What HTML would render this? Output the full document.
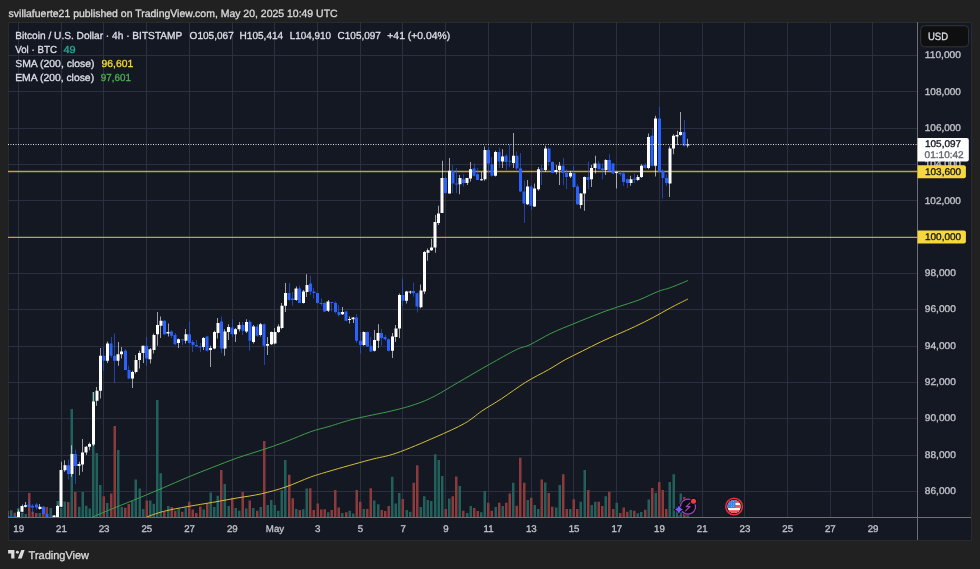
<!DOCTYPE html><html><head><meta charset="utf-8"><style>html,body{margin:0;padding:0;background:#212121;overflow:hidden}</style></head><body><svg width="980" height="569" viewBox="0 0 980 569" style="display:block;will-change:transform" text-rendering="geometricPrecision">
<rect x="0" y="0" width="980" height="569" fill="#212121"/>
<rect x="8" y="22" width="964" height="519" fill="#2a2a2d"/>
<rect x="9" y="23" width="962" height="517" fill="#141823"/>
<defs><clipPath id="pane"><rect x="8" y="22" width="909.0" height="495.0"/></clipPath></defs>
<path d="M8 491.5H917.0M8 455.5H917.0M8 418.5H917.0M8 382.5H917.0M8 346.5H917.0M8 309.5H917.0M8 273.5H917.0M8 237.5H917.0M8 200.5H917.0M8 164.5H917.0M8 128.5H917.0M8 91.5H917.0M8 55.5H917.0M18.5 22V517.0M61.5 22V517.0M103.5 22V517.0M146.5 22V517.0M189.5 22V517.0M232.5 22V517.0M274.5 22V517.0M317.5 22V517.0M360.5 22V517.0M402.5 22V517.0M445.5 22V517.0M488.5 22V517.0M531.5 22V517.0M573.5 22V517.0M616.5 22V517.0M659.5 22V517.0M702.5 22V517.0M744.5 22V517.0M787.5 22V517.0M830.5 22V517.0M872.5 22V517.0" stroke="#2c2f3f" stroke-width="1" fill="none"/>
<g clip-path="url(#pane)">
<path d="M10.0 510.3h2.5v6.7h-2.5zM17.0 508.1h2.5v8.9h-2.5zM21.0 512.4h2.5v4.6h-2.5zM24.5 513.9h2.5v3.1h-2.5zM38.5 513.1h2.5v3.9h-2.5zM49.5 508.1h2.5v8.9h-2.5zM53.0 516.0h2.5v1.0h-2.5zM56.5 501.0h2.5v16.0h-2.5zM60.0 507.4h2.5v9.6h-2.5zM63.5 501.4h2.5v15.6h-2.5zM70.5 409.0h2.5v108.0h-2.5zM78.0 506.7h2.5v10.3h-2.5zM81.5 492.0h2.5v25.0h-2.5zM85.0 505.7h2.5v11.3h-2.5zM88.5 508.6h2.5v8.4h-2.5zM92.0 392.0h2.5v125.0h-2.5zM95.5 452.9h2.5v64.1h-2.5zM99.0 485.0h2.5v32.0h-2.5zM106.0 502.9h2.5v14.1h-2.5zM117.0 450.0h2.5v67.0h-2.5zM120.5 507.1h2.5v9.9h-2.5zM131.0 501.0h2.5v16.0h-2.5zM134.5 479.6h2.5v37.4h-2.5zM138.5 488.6h2.5v28.4h-2.5zM142.0 509.1h2.5v7.9h-2.5zM149.0 500.6h2.5v16.4h-2.5zM152.5 503.8h2.5v13.2h-2.5zM156.0 399.9h2.5v117.1h-2.5zM159.5 473.2h2.5v43.8h-2.5zM167.0 506.0h2.5v11.0h-2.5zM177.5 508.6h2.5v8.4h-2.5zM184.5 507.5h2.5v9.5h-2.5zM202.5 509.6h2.5v7.4h-2.5zM209.5 492.5h2.5v24.5h-2.5zM213.0 507.1h2.5v9.9h-2.5zM216.5 495.7h2.5v21.3h-2.5zM223.5 483.9h2.5v33.1h-2.5zM227.5 506.0h2.5v11.0h-2.5zM234.5 508.1h2.5v8.9h-2.5zM238.0 510.7h2.5v6.3h-2.5zM245.0 508.6h2.5v8.4h-2.5zM252.0 507.9h2.5v9.1h-2.5zM259.5 507.1h2.5v9.9h-2.5zM266.5 504.9h2.5v12.1h-2.5zM270.0 500.0h2.5v17.0h-2.5zM273.5 504.9h2.5v12.1h-2.5zM277.0 510.7h2.5v6.3h-2.5zM280.5 490.3h2.5v26.7h-2.5zM284.0 459.9h2.5v57.1h-2.5zM295.0 509.0h2.5v8.0h-2.5zM302.0 509.2h2.5v7.8h-2.5zM305.5 488.6h2.5v28.4h-2.5zM327.0 512.2h2.5v4.8h-2.5zM341.0 512.9h2.5v4.1h-2.5zM348.5 510.7h2.5v6.3h-2.5zM352.0 513.5h2.5v3.5h-2.5zM362.5 509.0h2.5v8.0h-2.5zM373.0 500.6h2.5v16.4h-2.5zM377.0 504.3h2.5v12.7h-2.5zM391.0 476.8h2.5v40.2h-2.5zM394.5 503.6h2.5v13.4h-2.5zM398.0 492.9h2.5v24.1h-2.5zM405.5 510.1h2.5v6.9h-2.5zM409.0 511.8h2.5v5.2h-2.5zM419.5 507.1h2.5v9.9h-2.5zM423.0 496.3h2.5v20.7h-2.5zM426.5 500.0h2.5v17.0h-2.5zM430.0 501.1h2.5v15.9h-2.5zM434.0 454.3h2.5v62.7h-2.5zM437.5 459.9h2.5v57.1h-2.5zM441.0 476.0h2.5v41.0h-2.5zM448.0 498.5h2.5v18.5h-2.5zM458.5 486.1h2.5v30.9h-2.5zM466.0 512.9h2.5v4.1h-2.5zM469.5 506.0h2.5v11.0h-2.5zM480.0 512.2h2.5v4.8h-2.5zM483.5 491.0h2.5v26.0h-2.5zM494.5 507.1h2.5v9.9h-2.5zM501.5 506.0h2.5v11.0h-2.5zM512.0 482.8h2.5v34.2h-2.5zM526.5 500.0h2.5v17.0h-2.5zM533.5 504.9h2.5v12.1h-2.5zM537.0 509.0h2.5v8.0h-2.5zM544.0 482.4h2.5v34.6h-2.5zM555.0 507.5h2.5v9.5h-2.5zM558.5 485.0h2.5v32.0h-2.5zM569.0 509.0h2.5v8.0h-2.5zM579.5 501.7h2.5v15.3h-2.5zM583.5 470.0h2.5v47.0h-2.5zM590.5 504.9h2.5v12.1h-2.5zM594.0 501.7h2.5v15.3h-2.5zM604.5 496.3h2.5v20.7h-2.5zM615.5 502.8h2.5v14.2h-2.5zM629.5 510.1h2.5v6.9h-2.5zM636.5 513.3h2.5v3.7h-2.5zM640.0 511.9h2.5v5.1h-2.5zM647.5 499.4h2.5v17.6h-2.5zM654.5 493.0h2.5v24.0h-2.5zM668.5 481.9h2.5v35.1h-2.5zM672.5 474.2h2.5v42.8h-2.5zM676.0 507.0h2.5v10.0h-2.5zM679.5 493.6h2.5v23.4h-2.5zM686.5 515.0h2.5v2.0h-2.5z" fill="#22605c"/>
<path d="M6.5 511.0h2.5v6.0h-2.5zM13.5 512.7h2.5v4.3h-2.5zM28.0 493.1h2.5v23.9h-2.5zM31.5 511.7h2.5v5.3h-2.5zM35.0 513.1h2.5v3.9h-2.5zM42.0 510.3h2.5v6.7h-2.5zM45.5 507.0h2.5v10.0h-2.5zM67.0 502.0h2.5v15.0h-2.5zM74.0 492.0h2.5v25.0h-2.5zM102.5 496.3h2.5v20.7h-2.5zM110.0 493.6h2.5v23.4h-2.5zM113.5 426.0h2.5v91.0h-2.5zM124.0 507.7h2.5v9.3h-2.5zM127.5 503.9h2.5v13.1h-2.5zM145.5 500.6h2.5v16.4h-2.5zM163.0 511.4h2.5v5.6h-2.5zM170.5 507.1h2.5v9.9h-2.5zM174.0 510.7h2.5v6.3h-2.5zM181.0 511.8h2.5v5.2h-2.5zM188.0 501.7h2.5v15.3h-2.5zM191.5 509.6h2.5v7.4h-2.5zM195.0 512.9h2.5v4.1h-2.5zM199.0 506.4h2.5v10.6h-2.5zM206.0 503.2h2.5v13.8h-2.5zM220.0 470.0h2.5v47.0h-2.5zM231.0 497.8h2.5v19.2h-2.5zM241.5 492.0h2.5v25.0h-2.5zM248.5 500.6h2.5v16.4h-2.5zM256.0 510.7h2.5v6.3h-2.5zM263.0 441.0h2.5v76.0h-2.5zM288.0 474.7h2.5v42.3h-2.5zM291.5 498.3h2.5v18.7h-2.5zM298.5 510.1h2.5v6.9h-2.5zM309.0 488.2h2.5v28.8h-2.5zM312.5 510.1h2.5v6.9h-2.5zM316.5 503.6h2.5v13.4h-2.5zM320.0 509.6h2.5v7.4h-2.5zM323.5 509.2h2.5v7.8h-2.5zM330.5 510.1h2.5v6.9h-2.5zM334.0 489.9h2.5v27.1h-2.5zM337.5 507.5h2.5v9.5h-2.5zM345.0 512.2h2.5v4.8h-2.5zM355.5 489.9h2.5v27.1h-2.5zM359.0 501.7h2.5v15.3h-2.5zM366.0 509.0h2.5v8.0h-2.5zM369.5 488.2h2.5v28.8h-2.5zM380.5 510.1h2.5v6.9h-2.5zM384.0 511.1h2.5v5.9h-2.5zM387.5 506.0h2.5v11.0h-2.5zM401.5 498.9h2.5v18.1h-2.5zM412.5 482.8h2.5v34.2h-2.5zM416.0 465.3h2.5v51.7h-2.5zM444.5 509.0h2.5v8.0h-2.5zM451.5 496.3h2.5v20.7h-2.5zM455.0 476.4h2.5v40.6h-2.5zM462.0 510.7h2.5v6.3h-2.5zM473.0 507.9h2.5v9.1h-2.5zM476.5 511.1h2.5v5.9h-2.5zM487.0 502.8h2.5v14.2h-2.5zM490.5 510.7h2.5v6.3h-2.5zM498.0 502.8h2.5v14.2h-2.5zM505.0 502.8h2.5v14.2h-2.5zM508.5 493.6h2.5v23.4h-2.5zM515.5 505.8h2.5v11.2h-2.5zM519.0 457.7h2.5v59.3h-2.5zM523.0 482.8h2.5v34.2h-2.5zM530.0 497.8h2.5v19.2h-2.5zM540.5 479.6h2.5v37.4h-2.5zM547.5 493.1h2.5v23.9h-2.5zM551.0 506.8h2.5v10.2h-2.5zM562.0 474.3h2.5v42.7h-2.5zM565.5 509.0h2.5v8.0h-2.5zM572.5 499.3h2.5v17.7h-2.5zM576.0 509.0h2.5v8.0h-2.5zM587.0 489.9h2.5v27.1h-2.5zM597.5 501.7h2.5v15.3h-2.5zM601.0 506.0h2.5v11.0h-2.5zM608.0 491.8h2.5v25.2h-2.5zM612.0 509.0h2.5v8.0h-2.5zM619.0 512.9h2.5v4.1h-2.5zM622.5 507.5h2.5v9.5h-2.5zM626.0 511.8h2.5v5.2h-2.5zM633.0 510.7h2.5v6.3h-2.5zM644.0 509.8h2.5v7.2h-2.5zM651.0 488.1h2.5v28.9h-2.5zM658.0 481.9h2.5v35.1h-2.5zM661.5 489.9h2.5v27.1h-2.5zM665.0 509.0h2.5v8.0h-2.5zM683.0 496.9h2.5v20.1h-2.5z" fill="#8c3a3c"/>
<path d="M92.4 517.1C96.1 515.6 106.7 511.0 114.5 507.8C122.3 504.6 130.8 501.4 139.0 498.0C147.2 494.6 155.3 491.2 163.5 487.7C171.7 484.2 179.8 480.5 188.0 477.1C196.2 473.7 204.3 470.6 212.5 467.4C220.7 464.2 228.8 460.9 237.0 458.0C245.2 455.1 253.2 452.9 261.4 450.2C269.5 447.5 277.7 444.7 285.9 441.6C294.1 438.5 303.0 434.4 310.4 431.8C317.8 429.2 322.6 428.4 330.0 426.2C337.4 424.0 344.3 421.4 354.5 418.9C364.7 416.4 381.0 413.4 391.2 411.0C401.4 408.6 408.3 406.7 415.7 404.2C423.1 401.7 428.4 399.4 435.3 395.8C442.2 392.2 448.4 388.1 457.4 382.9C466.4 377.7 479.4 370.0 489.2 364.5C499.0 359.0 509.3 353.1 516.1 349.8C522.9 346.5 524.2 347.4 530.0 344.7C535.8 341.9 543.8 336.8 551.1 333.3C558.4 329.8 565.8 327.0 574.0 323.6C582.2 320.2 593.0 315.9 600.3 313.1C607.6 310.3 611.4 309.1 617.9 306.9C624.4 304.7 632.3 302.5 639.0 299.9C645.7 297.3 653.0 293.4 658.3 291.4C663.6 289.3 665.7 289.4 670.6 287.6C675.5 285.8 685.0 281.7 687.9 280.5" stroke="#3f9d4b" stroke-width="1" fill="none"/>
<path d="M146.3 517.1C149.2 516.1 156.6 513.2 163.5 511.4C170.4 509.6 179.8 508.0 188.0 506.5C196.2 505.0 204.3 503.8 212.5 502.4C220.7 501.0 228.8 499.4 237.0 498.0C245.2 496.6 253.2 495.7 261.4 493.8C269.5 491.9 277.7 489.7 285.9 486.9C294.1 484.1 303.0 479.8 310.4 477.1C317.8 474.5 320.2 473.9 330.0 471.0C339.8 468.1 358.2 463.0 369.2 460.0C380.2 457.0 385.1 457.0 396.1 453.2C407.1 449.4 423.9 442.2 435.3 437.2C446.7 432.2 456.9 427.7 464.7 423.3C472.5 418.9 475.8 415.1 481.9 411.0C488.0 406.9 494.1 403.6 501.4 398.8C508.7 394.0 518.0 387.0 525.9 382.1C533.8 377.2 542.0 373.4 548.5 369.7C555.0 366.0 559.5 362.8 565.2 359.7C570.9 356.6 576.9 353.8 582.7 350.9C588.6 348.0 594.4 344.9 600.3 342.1C606.2 339.3 612.0 336.8 617.9 334.2C623.8 331.6 629.6 329.1 635.5 326.3C641.4 323.5 647.2 320.6 653.1 317.5C659.0 314.4 664.8 310.9 670.6 307.8C676.4 304.7 685.0 300.5 687.9 299.0" stroke="#d4bf38" stroke-width="1" fill="none"/>
<path d="M8 171.5H917.0M8 237.3H917.0" stroke="#b9a833" stroke-width="1.3" fill="none"/>
<path d="M7.20 516.0h0.6v1.5h-0.6zM11.20 518.0h0.6v1.0h-0.6zM14.20 516.0h0.6v1.5h-0.6zM29.20 498.9h0.6v8.5h-0.6zM32.20 503.9h0.6v10.7h-0.6zM36.20 503.1h0.6v6.5h-0.6zM43.20 506.0h0.6v8.6h-0.6zM46.20 513.0h0.6v4.0h-0.6zM50.20 518.0h0.6v1.0h-0.6zM68.20 459.6h0.6v20.0h-0.6zM75.20 449.6h0.6v34.3h-0.6zM103.20 347.0h0.6v23.7h-0.6zM111.20 337.0h0.6v20.9h-0.6zM114.20 333.5h0.6v49.4h-0.6zM125.20 349.0h0.6v21.0h-0.6zM128.20 365.7h0.6v13.6h-0.6zM146.20 337.0h0.6v28.7h-0.6zM164.20 320.0h0.6v15.0h-0.6zM171.20 330.3h0.6v7.6h-0.6zM175.20 333.0h0.6v12.0h-0.6zM182.20 339.0h0.6v6.0h-0.6zM189.20 321.4h0.6v22.2h-0.6zM192.20 340.0h0.6v12.1h-0.6zM196.20 340.0h0.6v7.1h-0.6zM200.20 342.9h0.6v9.2h-0.6zM207.20 335.7h0.6v15.7h-0.6zM221.20 316.4h0.6v36.5h-0.6zM232.20 319.3h0.6v17.8h-0.6zM242.20 322.1h0.6v12.9h-0.6zM249.20 320.0h0.6v30.7h-0.6zM257.20 324.3h0.6v12.8h-0.6zM264.20 323.6h0.6v41.4h-0.6zM289.20 282.9h0.6v17.8h-0.6zM292.20 292.1h0.6v13.6h-0.6zM299.20 285.7h0.6v17.2h-0.6zM310.20 275.7h0.6v19.3h-0.6zM313.20 287.9h0.6v10.7h-0.6zM317.20 292.9h0.6v10.7h-0.6zM321.20 298.6h0.6v7.1h-0.6zM324.20 301.4h0.6v10.7h-0.6zM331.20 301.9h0.6v9.5h-0.6zM335.20 301.4h0.6v12.2h-0.6zM338.20 305.0h0.6v11.4h-0.6zM346.20 310.7h0.6v10.7h-0.6zM356.20 314.3h0.6v28.6h-0.6zM360.20 332.1h0.6v21.5h-0.6zM367.20 331.4h0.6v15.7h-0.6zM370.20 337.1h0.6v15.0h-0.6zM381.20 329.3h0.6v16.4h-0.6zM385.20 335.0h0.6v5.7h-0.6zM388.20 338.6h0.6v12.8h-0.6zM402.20 278.6h0.6v27.1h-0.6zM413.20 282.7h0.6v14.1h-0.6zM417.20 292.4h0.6v20.2h-0.6zM445.20 177.0h0.6v16.6h-0.6zM452.20 165.0h0.6v27.9h-0.6zM456.20 167.9h0.6v25.0h-0.6zM463.20 174.3h0.6v12.1h-0.6zM474.20 163.6h0.6v12.8h-0.6zM477.20 167.9h0.6v12.1h-0.6zM488.20 147.1h0.6v26.5h-0.6zM491.20 157.1h0.6v19.3h-0.6zM499.20 147.9h0.6v20.0h-0.6zM506.20 154.3h0.6v15.7h-0.6zM509.20 144.3h0.6v22.8h-0.6zM516.20 151.4h0.6v18.6h-0.6zM520.20 152.9h0.6v39.2h-0.6zM524.20 180.7h0.6v42.2h-0.6zM531.20 185.0h0.6v25.0h-0.6zM541.20 165.0h0.6v20.0h-0.6zM548.20 147.1h0.6v18.6h-0.6zM552.20 161.4h0.6v12.2h-0.6zM563.20 157.9h0.6v27.1h-0.6zM566.20 169.3h0.6v20.0h-0.6zM573.20 165.7h0.6v22.2h-0.6zM577.20 184.3h0.6v20.7h-0.6zM588.20 161.4h0.6v27.9h-0.6zM598.20 160.7h0.6v8.6h-0.6zM602.20 163.6h0.6v15.7h-0.6zM609.20 154.3h0.6v17.1h-0.6zM613.20 162.9h0.6v11.4h-0.6zM620.20 170.0h0.6v5.7h-0.6zM623.20 172.1h0.6v13.6h-0.6zM627.20 178.6h0.6v9.3h-0.6zM634.20 173.6h0.6v9.3h-0.6zM645.20 162.9h0.6v5.7h-0.6zM652.20 128.6h0.6v37.8h-0.6zM659.20 107.1h0.6v65.0h-0.6zM662.20 169.3h0.6v29.3h-0.6zM666.20 174.3h0.6v11.4h-0.6zM684.20 120.0h0.6v26.4h-0.6z" fill="#2962ff"/>
<path d="M6.5 516.0h3.0v1.5h-3.0zM10.0 518.0h3.0v1.0h-3.0zM13.5 516.0h3.0v1.5h-3.0zM27.5 504.6h3.0v2.1h-3.0zM31.0 505.7h3.0v1.7h-3.0zM35.0 504.6h3.0v2.8h-3.0zM42.0 506.7h3.0v7.2h-3.0zM45.5 513.9h3.0v3.1h-3.0zM49.0 518.0h3.0v1.0h-3.0zM67.0 465.3h3.0v8.6h-3.0zM74.0 453.9h3.0v12.1h-3.0zM102.5 355.7h3.0v5.0h-3.0zM109.5 343.6h3.0v12.1h-3.0zM113.0 355.7h3.0v5.0h-3.0zM124.0 350.7h3.0v19.3h-3.0zM127.5 370.0h3.0v8.6h-3.0zM145.0 345.7h3.0v12.9h-3.0zM163.0 320.7h3.0v13.6h-3.0zM170.0 331.4h3.0v4.3h-3.0zM173.5 335.0h3.0v9.3h-3.0zM181.0 339.3h3.0v1.0h-3.0zM188.0 334.3h3.0v8.6h-3.0zM191.5 342.1h3.0v2.9h-3.0zM195.0 345.0h3.0v1.4h-3.0zM198.5 346.4h3.0v1.0h-3.0zM205.5 336.4h3.0v14.3h-3.0zM220.0 321.4h3.0v27.2h-3.0zM230.5 327.4h3.0v6.9h-3.0zM241.5 325.0h3.0v5.7h-3.0zM248.5 321.7h3.0v19.0h-3.0zM255.5 326.4h3.0v9.3h-3.0zM262.5 324.3h3.0v21.4h-3.0zM287.5 292.9h3.0v7.1h-3.0zM291.0 298.6h3.0v1.4h-3.0zM298.0 288.6h3.0v14.3h-3.0zM309.0 283.6h3.0v7.8h-3.0zM312.5 291.4h3.0v1.5h-3.0zM316.0 292.9h3.0v10.0h-3.0zM319.5 302.9h3.0v1.0h-3.0zM323.0 302.9h3.0v8.5h-3.0zM330.5 302.1h3.0v1.0h-3.0zM334.0 302.9h3.0v9.2h-3.0zM337.5 312.1h3.0v2.9h-3.0zM344.5 311.4h3.0v9.3h-3.0zM355.0 317.6h3.0v23.1h-3.0zM359.0 340.7h3.0v4.3h-3.0zM366.0 332.1h3.0v14.3h-3.0zM369.5 345.7h3.0v5.7h-3.0zM380.0 332.9h3.0v5.0h-3.0zM383.5 336.9h3.0v2.4h-3.0zM387.0 339.3h3.0v11.4h-3.0zM401.5 295.0h3.0v5.7h-3.0zM412.0 291.0h3.0v2.2h-3.0zM415.5 293.2h3.0v13.2h-3.0zM444.0 177.9h3.0v15.0h-3.0zM451.5 170.7h3.0v12.9h-3.0zM455.0 183.6h3.0v1.0h-3.0zM462.0 179.3h3.0v3.6h-3.0zM472.5 168.6h3.0v7.1h-3.0zM476.0 174.3h3.0v5.7h-3.0zM487.0 150.0h3.0v13.6h-3.0zM490.5 164.3h3.0v11.4h-3.0zM497.5 151.9h3.0v9.5h-3.0zM504.5 155.7h3.0v6.4h-3.0zM508.5 160.7h3.0v1.0h-3.0zM515.5 155.7h3.0v12.9h-3.0zM519.0 168.6h3.0v22.8h-3.0zM522.5 191.4h3.0v12.2h-3.0zM529.5 186.4h3.0v19.3h-3.0zM540.5 168.6h3.0v1.0h-3.0zM547.5 148.6h3.0v13.5h-3.0zM551.0 162.1h3.0v10.8h-3.0zM561.5 165.7h3.0v7.2h-3.0zM565.0 172.9h3.0v4.2h-3.0zM572.5 172.9h3.0v14.2h-3.0zM576.0 186.4h3.0v17.9h-3.0zM586.5 177.1h3.0v2.9h-3.0zM597.5 163.6h3.0v5.7h-3.0zM601.0 168.6h3.0v1.4h-3.0zM608.0 160.0h3.0v10.7h-3.0zM611.5 163.6h3.0v10.0h-3.0zM618.5 172.9h3.0v1.4h-3.0zM622.0 173.6h3.0v8.5h-3.0zM626.0 179.3h3.0v3.6h-3.0zM633.0 178.6h3.0v1.0h-3.0zM643.5 165.0h3.0v2.9h-3.0zM650.5 135.7h3.0v30.0h-3.0zM658.0 118.6h3.0v52.8h-3.0zM661.5 170.7h3.0v7.2h-3.0zM665.0 177.9h3.0v5.0h-3.0zM682.5 132.1h3.0v13.6h-3.0z" fill="#2962ff"/>
<path d="M18.20 509.6h0.6v7.4h-0.6zM22.20 504.6h0.6v7.4h-0.6zM25.20 502.0h0.6v5.4h-0.6zM39.20 503.9h0.6v5.7h-0.6zM54.20 515.0h0.6v2.0h-0.6zM57.20 505.0h0.6v12.0h-0.6zM61.20 461.7h0.6v45.3h-0.6zM64.20 460.3h0.6v11.4h-0.6zM71.20 445.3h0.6v31.4h-0.6zM79.20 461.7h0.6v13.6h-0.6zM82.20 438.9h0.6v32.8h-0.6zM86.20 446.0h0.6v9.0h-0.6zM89.20 442.4h0.6v7.9h-0.6zM93.20 392.0h0.6v54.0h-0.6zM96.20 387.0h0.6v18.7h-0.6zM100.20 347.9h0.6v50.7h-0.6zM107.20 341.4h0.6v21.5h-0.6zM118.20 342.0h0.6v23.7h-0.6zM121.20 347.0h0.6v11.6h-0.6zM132.20 370.7h0.6v17.2h-0.6zM135.20 355.0h0.6v18.6h-0.6zM139.20 350.7h0.6v17.9h-0.6zM143.20 345.7h0.6v17.2h-0.6zM150.20 347.9h0.6v15.7h-0.6zM153.20 333.6h0.6v20.0h-0.6zM157.20 312.0h0.6v33.7h-0.6zM160.20 316.4h0.6v21.5h-0.6zM168.20 323.6h0.6v12.8h-0.6zM178.20 338.6h0.6v9.3h-0.6zM185.20 328.9h0.6v14.7h-0.6zM203.20 337.1h0.6v12.9h-0.6zM210.20 345.7h0.6v21.4h-0.6zM214.20 330.7h0.6v18.6h-0.6zM217.20 317.9h0.6v20.7h-0.6zM224.20 329.3h0.6v26.4h-0.6zM228.20 324.3h0.6v15.7h-0.6zM235.20 327.9h0.6v14.2h-0.6zM239.20 322.1h0.6v9.3h-0.6zM246.20 319.3h0.6v13.6h-0.6zM253.20 325.0h0.6v18.6h-0.6zM260.20 322.9h0.6v13.5h-0.6zM267.20 337.1h0.6v17.9h-0.6zM271.20 331.4h0.6v13.6h-0.6zM274.20 327.9h0.6v16.4h-0.6zM278.20 324.3h0.6v8.6h-0.6zM281.20 302.9h0.6v26.4h-0.6zM285.20 282.9h0.6v29.2h-0.6zM296.20 286.4h0.6v14.3h-0.6zM303.20 290.0h0.6v13.6h-0.6zM306.20 274.3h0.6v22.8h-0.6zM328.20 300.0h0.6v12.1h-0.6zM342.20 307.1h0.6v7.9h-0.6zM349.20 316.4h0.6v7.2h-0.6zM353.20 317.0h0.6v5.9h-0.6zM363.20 331.4h0.6v14.3h-0.6zM374.20 330.0h0.6v21.4h-0.6zM378.20 324.3h0.6v23.6h-0.6zM392.20 332.9h0.6v25.0h-0.6zM395.20 325.0h0.6v17.1h-0.6zM399.20 293.6h0.6v44.3h-0.6zM406.20 290.7h0.6v12.9h-0.6zM410.20 290.7h0.6v3.4h-0.6zM420.20 284.5h0.6v23.7h-0.6zM424.20 251.0h0.6v43.1h-0.6zM427.20 248.4h0.6v12.3h-0.6zM431.20 238.7h0.6v12.3h-0.6zM435.20 215.0h0.6v37.8h-0.6zM438.20 205.7h0.6v19.3h-0.6zM442.20 160.7h0.6v52.2h-0.6zM449.20 157.9h0.6v35.7h-0.6zM459.20 175.0h0.6v19.3h-0.6zM467.20 177.9h0.6v7.1h-0.6zM470.20 162.1h0.6v19.3h-0.6zM481.20 172.1h0.6v8.6h-0.6zM484.20 146.4h0.6v34.3h-0.6zM495.20 150.7h0.6v25.7h-0.6zM502.20 149.3h0.6v18.6h-0.6zM513.20 132.9h0.6v35.0h-0.6zM527.20 180.0h0.6v25.0h-0.6zM534.20 183.6h0.6v23.5h-0.6zM538.20 167.1h0.6v23.6h-0.6zM545.20 145.7h0.6v26.4h-0.6zM556.20 165.0h0.6v9.3h-0.6zM559.20 162.1h0.6v22.9h-0.6zM570.20 171.0h0.6v6.9h-0.6zM580.20 192.9h0.6v15.7h-0.6zM584.20 176.4h0.6v34.3h-0.6zM591.20 165.0h0.6v22.1h-0.6zM595.20 155.7h0.6v17.9h-0.6zM605.20 159.3h0.6v15.7h-0.6zM616.20 171.4h0.6v17.2h-0.6zM630.20 175.7h0.6v10.0h-0.6zM637.20 175.0h0.6v5.7h-0.6zM641.20 164.3h0.6v13.6h-0.6zM648.20 133.6h0.6v35.7h-0.6zM655.20 115.7h0.6v60.7h-0.6zM669.20 146.4h0.6v50.7h-0.6zM673.20 134.3h0.6v20.0h-0.6zM677.20 130.7h0.6v14.3h-0.6zM680.20 112.1h0.6v23.6h-0.6zM687.20 138.8h0.6v8.8h-0.6z" fill="#ffffff"/>
<path d="M17.0 511.7h3.0v5.3h-3.0zM20.5 506.0h3.0v5.7h-3.0zM24.0 505.3h3.0v1.4h-3.0zM38.5 506.7h3.0v2.2h-3.0zM52.5 515.5h3.0v1.5h-3.0zM56.0 506.0h3.0v11.0h-3.0zM59.5 470.0h3.0v36.7h-3.0zM63.5 465.3h3.0v5.0h-3.0zM70.5 453.9h3.0v20.0h-3.0zM77.5 463.9h3.0v2.1h-3.0zM81.0 452.4h3.0v12.2h-3.0zM84.5 446.7h3.0v5.7h-3.0zM88.0 443.9h3.0v2.8h-3.0zM92.0 401.4h3.0v43.2h-3.0zM95.5 390.7h3.0v10.0h-3.0zM99.0 355.7h3.0v35.0h-3.0zM106.0 343.6h3.0v17.1h-3.0zM116.5 354.3h3.0v6.4h-3.0zM120.0 351.4h3.0v2.9h-3.0zM131.0 372.0h3.0v6.6h-3.0zM134.5 360.0h3.0v12.0h-3.0zM138.0 352.9h3.0v7.1h-3.0zM141.5 345.7h3.0v7.2h-3.0zM148.5 349.3h3.0v10.0h-3.0zM152.5 335.0h3.0v15.0h-3.0zM156.0 325.0h3.0v9.3h-3.0zM159.5 320.7h3.0v5.0h-3.0zM166.5 332.0h3.0v1.6h-3.0zM177.0 339.3h3.0v3.6h-3.0zM184.5 334.3h3.0v6.4h-3.0zM202.0 337.9h3.0v9.2h-3.0zM209.0 347.9h3.0v2.1h-3.0zM213.0 332.1h3.0v16.5h-3.0zM216.5 322.9h3.0v10.0h-3.0zM223.5 331.4h3.0v17.2h-3.0zM227.0 327.1h3.0v5.0h-3.0zM234.0 329.3h3.0v5.0h-3.0zM237.5 325.0h3.0v4.3h-3.0zM245.0 322.1h3.0v9.3h-3.0zM252.0 326.4h3.0v15.7h-3.0zM259.0 324.3h3.0v10.7h-3.0zM266.0 344.0h3.0v1.7h-3.0zM270.0 332.1h3.0v12.2h-3.0zM273.5 332.1h3.0v11.5h-3.0zM277.0 326.4h3.0v5.7h-3.0zM280.5 305.7h3.0v22.2h-3.0zM284.0 292.9h3.0v12.8h-3.0zM294.5 288.6h3.0v11.4h-3.0zM302.0 291.4h3.0v11.5h-3.0zM305.5 285.0h3.0v7.1h-3.0zM326.5 301.4h3.0v9.3h-3.0zM341.0 312.1h3.0v2.2h-3.0zM348.0 319.0h3.0v1.0h-3.0zM351.5 317.6h3.0v1.7h-3.0zM362.5 332.1h3.0v12.9h-3.0zM373.0 340.0h3.0v10.7h-3.0zM376.5 332.9h3.0v7.8h-3.0zM391.0 336.4h3.0v14.3h-3.0zM394.5 328.6h3.0v8.5h-3.0zM398.0 295.0h3.0v33.6h-3.0zM405.0 291.4h3.0v9.3h-3.0zM408.5 291.5h3.0v1.0h-3.0zM419.5 290.6h3.0v16.7h-3.0zM423.0 251.9h3.0v39.6h-3.0zM426.5 250.2h3.0v2.6h-3.0zM430.0 247.5h3.0v2.7h-3.0zM433.5 222.0h3.0v25.5h-3.0zM437.0 213.6h3.0v9.3h-3.0zM440.5 177.9h3.0v35.0h-3.0zM448.0 170.7h3.0v22.9h-3.0zM458.5 177.9h3.0v6.4h-3.0zM465.5 177.9h3.0v5.0h-3.0zM469.0 169.3h3.0v9.3h-3.0zM480.0 179.3h3.0v1.0h-3.0zM483.5 150.0h3.0v29.3h-3.0zM494.0 151.9h3.0v23.8h-3.0zM501.0 156.4h3.0v5.0h-3.0zM512.0 155.7h3.0v7.2h-3.0zM526.0 186.4h3.0v17.9h-3.0zM533.0 188.6h3.0v17.8h-3.0zM537.0 169.3h3.0v20.0h-3.0zM544.0 148.6h3.0v21.4h-3.0zM554.5 170.0h3.0v2.1h-3.0zM558.0 165.7h3.0v4.3h-3.0zM569.0 172.9h3.0v3.5h-3.0zM579.5 193.6h3.0v11.4h-3.0zM583.0 177.1h3.0v16.5h-3.0zM590.0 167.9h3.0v11.4h-3.0zM593.5 163.6h3.0v4.3h-3.0zM604.5 160.0h3.0v10.0h-3.0zM615.0 172.1h3.0v1.0h-3.0zM629.5 179.3h3.0v3.6h-3.0zM636.5 177.1h3.0v2.9h-3.0zM640.0 165.7h3.0v11.4h-3.0zM647.0 137.1h3.0v30.8h-3.0zM654.0 118.6h3.0v47.1h-3.0zM668.5 148.6h3.0v35.0h-3.0zM672.0 135.7h3.0v12.9h-3.0zM675.5 135.0h3.0v1.4h-3.0zM679.0 132.1h3.0v2.9h-3.0zM686.5 144.6h3.0v1.0h-3.0z" fill="#ffffff"/>
<path d="M8 144.5H917.0" stroke="#ffffff" stroke-opacity="0.85" stroke-width="1" stroke-dasharray="1 1.5" fill="none"/>
</g>
<path d="M917.5 22V540M8 517.5H971" stroke="#6e7075" stroke-width="1" fill="none"/>
<text x="8.6" y="16.5" font-size="10.5" fill="#d9d9d9" stroke="#d9d9d9" stroke-width="0.32" text-anchor="start" textLength="329" lengthAdjust="spacingAndGlyphs" font-family="Liberation Sans, sans-serif" >svillafuerte21 published on TradingView.com, May 20, 2025 10:49 UTC</text>
<text x="15.2" y="39.1" font-size="10.2" fill="#dcdfe5" stroke="#dcdfe5" stroke-width="0.32" text-anchor="start" textLength="167.1" lengthAdjust="spacingAndGlyphs" font-family="Liberation Sans, sans-serif" >Bitcoin / U.S. Dollar · 4h · BITSTAMP</text>
<text x="189.6" y="39.1" font-size="10.2" fill="#dcdfe5" stroke="#dcdfe5" stroke-width="0.32" text-anchor="start" textLength="44.2" lengthAdjust="spacingAndGlyphs" font-family="Liberation Sans, sans-serif" >O105,067</text>
<text x="239.6" y="39.1" font-size="10.2" fill="#dcdfe5" stroke="#dcdfe5" stroke-width="0.32" text-anchor="start" textLength="43.6" lengthAdjust="spacingAndGlyphs" font-family="Liberation Sans, sans-serif" >H105,414</text>
<text x="289.8" y="39.1" font-size="10.2" fill="#dcdfe5" stroke="#dcdfe5" stroke-width="0.32" text-anchor="start" textLength="41.2" lengthAdjust="spacingAndGlyphs" font-family="Liberation Sans, sans-serif" >L104,910</text>
<text x="337.6" y="39.1" font-size="10.2" fill="#dcdfe5" stroke="#dcdfe5" stroke-width="0.32" text-anchor="start" textLength="43.3" lengthAdjust="spacingAndGlyphs" font-family="Liberation Sans, sans-serif" >C105,097</text>
<text x="387.3" y="39.1" font-size="10.2" fill="#dcdfe5" stroke="#dcdfe5" stroke-width="0.32" text-anchor="start" textLength="62.9" lengthAdjust="spacingAndGlyphs" font-family="Liberation Sans, sans-serif" >+41 (+0.04%)</text>
<text x="15.2" y="52.7" font-size="10.2" fill="#dcdfe5" stroke="#dcdfe5" stroke-width="0.32" text-anchor="start" textLength="41.8" lengthAdjust="spacingAndGlyphs" font-family="Liberation Sans, sans-serif" >Vol · BTC</text>
<text x="63.5" y="52.7" font-size="10.2" fill="#22ab94" stroke="#22ab94" stroke-width="0.32" text-anchor="start" textLength="12.2" lengthAdjust="spacingAndGlyphs" font-family="Liberation Sans, sans-serif" >49</text>
<text x="15.2" y="67.2" font-size="10.2" fill="#dcdfe5" stroke="#dcdfe5" stroke-width="0.32" text-anchor="start" textLength="79.3" lengthAdjust="spacingAndGlyphs" font-family="Liberation Sans, sans-serif" >SMA (200, close)</text>
<text x="101.5" y="67.2" font-size="10.2" fill="#f7d83c" stroke="#f7d83c" stroke-width="0.32" text-anchor="start" textLength="31.7" lengthAdjust="spacingAndGlyphs" font-family="Liberation Sans, sans-serif" >96,601</text>
<text x="15.2" y="80.9" font-size="10.2" fill="#dcdfe5" stroke="#dcdfe5" stroke-width="0.32" text-anchor="start" textLength="78.9" lengthAdjust="spacingAndGlyphs" font-family="Liberation Sans, sans-serif" >EMA (200, close)</text>
<text x="100.8" y="80.9" font-size="10.2" fill="#4caf50" stroke="#4caf50" stroke-width="0.32" text-anchor="start" textLength="30.1" lengthAdjust="spacingAndGlyphs" font-family="Liberation Sans, sans-serif" >97,601</text>
<text x="924.8" y="494.11199999999997" font-size="9.7" fill="#c0c2c8" stroke="#c0c2c8" stroke-width="0.32" text-anchor="start" textLength="31.0" lengthAdjust="spacingAndGlyphs" font-family="Liberation Sans, sans-serif" >86,000</text>
<text x="924.8" y="457.78599999999994" font-size="9.7" fill="#c0c2c8" stroke="#c0c2c8" stroke-width="0.32" text-anchor="start" textLength="31.0" lengthAdjust="spacingAndGlyphs" font-family="Liberation Sans, sans-serif" >88,000</text>
<text x="924.8" y="421.46" font-size="9.7" fill="#c0c2c8" stroke="#c0c2c8" stroke-width="0.32" text-anchor="start" textLength="31.0" lengthAdjust="spacingAndGlyphs" font-family="Liberation Sans, sans-serif" >90,000</text>
<text x="924.8" y="385.13399999999996" font-size="9.7" fill="#c0c2c8" stroke="#c0c2c8" stroke-width="0.32" text-anchor="start" textLength="31.0" lengthAdjust="spacingAndGlyphs" font-family="Liberation Sans, sans-serif" >92,000</text>
<text x="924.8" y="348.808" font-size="9.7" fill="#c0c2c8" stroke="#c0c2c8" stroke-width="0.32" text-anchor="start" textLength="31.0" lengthAdjust="spacingAndGlyphs" font-family="Liberation Sans, sans-serif" >94,000</text>
<text x="924.8" y="312.48199999999997" font-size="9.7" fill="#c0c2c8" stroke="#c0c2c8" stroke-width="0.32" text-anchor="start" textLength="31.0" lengthAdjust="spacingAndGlyphs" font-family="Liberation Sans, sans-serif" >96,000</text>
<text x="924.8" y="276.156" font-size="9.7" fill="#c0c2c8" stroke="#c0c2c8" stroke-width="0.32" text-anchor="start" textLength="31.0" lengthAdjust="spacingAndGlyphs" font-family="Liberation Sans, sans-serif" >98,000</text>
<text x="924.8" y="239.82999999999998" font-size="9.7" fill="#c0c2c8" stroke="#c0c2c8" stroke-width="0.32" text-anchor="start" textLength="36.1" lengthAdjust="spacingAndGlyphs" font-family="Liberation Sans, sans-serif" >100,000</text>
<text x="924.8" y="203.504" font-size="9.7" fill="#c0c2c8" stroke="#c0c2c8" stroke-width="0.32" text-anchor="start" textLength="36.1" lengthAdjust="spacingAndGlyphs" font-family="Liberation Sans, sans-serif" >102,000</text>
<text x="924.8" y="167.178" font-size="9.7" fill="#c0c2c8" stroke="#c0c2c8" stroke-width="0.32" text-anchor="start" textLength="36.1" lengthAdjust="spacingAndGlyphs" font-family="Liberation Sans, sans-serif" >104,000</text>
<text x="924.8" y="130.85199999999998" font-size="9.7" fill="#c0c2c8" stroke="#c0c2c8" stroke-width="0.32" text-anchor="start" textLength="36.1" lengthAdjust="spacingAndGlyphs" font-family="Liberation Sans, sans-serif" >106,000</text>
<text x="924.8" y="94.526" font-size="9.7" fill="#c0c2c8" stroke="#c0c2c8" stroke-width="0.32" text-anchor="start" textLength="36.1" lengthAdjust="spacingAndGlyphs" font-family="Liberation Sans, sans-serif" >108,000</text>
<text x="924.8" y="58.2" font-size="9.7" fill="#c0c2c8" stroke="#c0c2c8" stroke-width="0.32" text-anchor="start" textLength="36.1" lengthAdjust="spacingAndGlyphs" font-family="Liberation Sans, sans-serif" >110,000</text>
<rect x="920.7" y="25.7" width="47.9" height="21.1" rx="4" fill="#0f0f10" stroke="#34353a" stroke-width="1"/>
<text x="927.9" y="40.1" font-size="10.6" fill="#dcdfe5" stroke="#dcdfe5" stroke-width="0.32" text-anchor="start" textLength="20.2" lengthAdjust="spacingAndGlyphs" font-family="Liberation Sans, sans-serif" >USD</text>
<path d="M917.5 137.9H966.8Q968.8 137.9 968.8 139.9V159.6Q968.8 161.6 966.8 161.6H917.5Z" fill="#ffffff"/>
<text x="925" y="146.9" font-size="9.7" fill="#131722" stroke="#131722" stroke-width="0.32" text-anchor="start" textLength="36.1" lengthAdjust="spacingAndGlyphs" font-family="Liberation Sans, sans-serif" >105,097</text>
<text x="924.6" y="158" font-size="9.7" fill="#62656c" stroke="#62656c" stroke-width="0.32" text-anchor="start" textLength="39.1" lengthAdjust="spacingAndGlyphs" font-family="Liberation Sans, sans-serif" >01:10:42</text>
<path d="M917.5 165.2H963.9Q965.9 165.2 965.9 167.2V176.2Q965.9 178.2 963.9 178.2H917.5Z" fill="#f7d83c"/>
<text x="925" y="174.7" font-size="9.7" fill="#131722" stroke="#131722" stroke-width="0.32" text-anchor="start" textLength="36.1" lengthAdjust="spacingAndGlyphs" font-family="Liberation Sans, sans-serif" >103,600</text>
<path d="M917.5 230.6H963.9Q965.9 230.6 965.9 232.6V241.6Q965.9 243.6 963.9 243.6H917.5Z" fill="#f7d83c"/>
<text x="925" y="240.1" font-size="9.7" fill="#131722" stroke="#131722" stroke-width="0.32" text-anchor="start" textLength="36.1" lengthAdjust="spacingAndGlyphs" font-family="Liberation Sans, sans-serif" >100,000</text>
<text x="18.7" y="532.2" font-size="9.7" fill="#c0c2c8" stroke="#c0c2c8" stroke-width="0.32" text-anchor="middle" font-family="Liberation Sans, sans-serif" >19</text>
<text x="61.42" y="532.2" font-size="9.7" fill="#c0c2c8" stroke="#c0c2c8" stroke-width="0.32" text-anchor="middle" font-family="Liberation Sans, sans-serif" >21</text>
<text x="104.14" y="532.2" font-size="9.7" fill="#c0c2c8" stroke="#c0c2c8" stroke-width="0.32" text-anchor="middle" font-family="Liberation Sans, sans-serif" >23</text>
<text x="146.85999999999999" y="532.2" font-size="9.7" fill="#c0c2c8" stroke="#c0c2c8" stroke-width="0.32" text-anchor="middle" font-family="Liberation Sans, sans-serif" >25</text>
<text x="189.57999999999998" y="532.2" font-size="9.7" fill="#c0c2c8" stroke="#c0c2c8" stroke-width="0.32" text-anchor="middle" font-family="Liberation Sans, sans-serif" >27</text>
<text x="232.29999999999998" y="532.2" font-size="9.7" fill="#c0c2c8" stroke="#c0c2c8" stroke-width="0.32" text-anchor="middle" font-family="Liberation Sans, sans-serif" >29</text>
<text x="275.02" y="532.2" font-size="9.7" fill="#c0c2c8" stroke="#c0c2c8" stroke-width="0.32" text-anchor="middle" font-family="Liberation Sans, sans-serif" >May</text>
<text x="317.73999999999995" y="532.2" font-size="9.7" fill="#c0c2c8" stroke="#c0c2c8" stroke-width="0.32" text-anchor="middle" font-family="Liberation Sans, sans-serif" >3</text>
<text x="360.46" y="532.2" font-size="9.7" fill="#c0c2c8" stroke="#c0c2c8" stroke-width="0.32" text-anchor="middle" font-family="Liberation Sans, sans-serif" >5</text>
<text x="403.18" y="532.2" font-size="9.7" fill="#c0c2c8" stroke="#c0c2c8" stroke-width="0.32" text-anchor="middle" font-family="Liberation Sans, sans-serif" >7</text>
<text x="445.9" y="532.2" font-size="9.7" fill="#c0c2c8" stroke="#c0c2c8" stroke-width="0.32" text-anchor="middle" font-family="Liberation Sans, sans-serif" >9</text>
<text x="488.61999999999995" y="532.2" font-size="9.7" fill="#c0c2c8" stroke="#c0c2c8" stroke-width="0.32" text-anchor="middle" font-family="Liberation Sans, sans-serif" >11</text>
<text x="531.34" y="532.2" font-size="9.7" fill="#c0c2c8" stroke="#c0c2c8" stroke-width="0.32" text-anchor="middle" font-family="Liberation Sans, sans-serif" >13</text>
<text x="574.0600000000001" y="532.2" font-size="9.7" fill="#c0c2c8" stroke="#c0c2c8" stroke-width="0.32" text-anchor="middle" font-family="Liberation Sans, sans-serif" >15</text>
<text x="616.78" y="532.2" font-size="9.7" fill="#c0c2c8" stroke="#c0c2c8" stroke-width="0.32" text-anchor="middle" font-family="Liberation Sans, sans-serif" >17</text>
<text x="659.5" y="532.2" font-size="9.7" fill="#c0c2c8" stroke="#c0c2c8" stroke-width="0.32" text-anchor="middle" font-family="Liberation Sans, sans-serif" >19</text>
<text x="702.22" y="532.2" font-size="9.7" fill="#c0c2c8" stroke="#c0c2c8" stroke-width="0.32" text-anchor="middle" font-family="Liberation Sans, sans-serif" >21</text>
<text x="744.94" y="532.2" font-size="9.7" fill="#c0c2c8" stroke="#c0c2c8" stroke-width="0.32" text-anchor="middle" font-family="Liberation Sans, sans-serif" >23</text>
<text x="787.6600000000001" y="532.2" font-size="9.7" fill="#c0c2c8" stroke="#c0c2c8" stroke-width="0.32" text-anchor="middle" font-family="Liberation Sans, sans-serif" >25</text>
<text x="830.38" y="532.2" font-size="9.7" fill="#c0c2c8" stroke="#c0c2c8" stroke-width="0.32" text-anchor="middle" font-family="Liberation Sans, sans-serif" >27</text>
<text x="873.1" y="532.2" font-size="9.7" fill="#c0c2c8" stroke="#c0c2c8" stroke-width="0.32" text-anchor="middle" font-family="Liberation Sans, sans-serif" >29</text>
<g><circle cx="688.0" cy="506.65" r="8.7" fill="#0d0d10"/><circle cx="688.0" cy="506.65" r="7.55" fill="none" stroke="#a044c8" stroke-width="1.2"/><path d="M690.7 502.4L686.2 506.6L690.1 506.6L685.5 510.9" fill="none" stroke="#a044c8" stroke-width="1.15" stroke-linejoin="round" stroke-linecap="round"/><circle cx="693.5" cy="501.2" r="3.5" fill="#0d0d10"/><circle cx="693.5" cy="501.2" r="2.5" fill="#f03c46"/><path d="M679 504.3Q679.6 509 684.3 509.6Q679.6 510.2 679 514.9Q678.4 510.2 673.7 509.6Q678.4 509 679 504.3Z" fill="#0d0d10" stroke="#0d0d10" stroke-width="1.2"/><path d="M679 505.3Q679.9 508.7 683.3 509.6Q679.9 510.5 679 513.9Q678.1 510.5 674.7 509.6Q678.1 508.7 679 505.3Z" fill="#7a5cff"/></g>
<g><circle cx="734.1" cy="506.5" r="9.2" fill="#0d0d10"/><circle cx="734.1" cy="506.5" r="8.3" fill="none" stroke="#e6323c" stroke-width="1.5"/><clipPath id="flag"><circle cx="734.1" cy="506.5" r="6.6"/></clipPath><g clip-path="url(#flag)"><rect x="727" y="499" width="15" height="15" fill="#ffffff"/><rect x="727" y="499" width="15" height="3.9" fill="#f05550"/><rect x="727" y="504.9" width="15" height="3" fill="#f05550"/><rect x="727" y="510.2" width="15" height="4" fill="#f05550"/><rect x="727" y="499" width="8.5" height="9.1" fill="#3c82e6"/><g fill="#cfe0ff"><circle cx="731.5" cy="501.6" r="0.45"/><circle cx="733.7" cy="501.6" r="0.45"/><circle cx="731.5" cy="504" r="0.45"/><circle cx="733.7" cy="504" r="0.45"/><circle cx="731.5" cy="506.3" r="0.45"/><circle cx="733.7" cy="506.3" r="0.45"/><circle cx="729.4" cy="504" r="0.45"/></g></g></g>
<g fill="#dcdcdc"><path d="M8.1 550.1H14.4V558.4H11.2V553.4H8.1Z"/><circle cx="17.4" cy="552.2" r="1.45"/><path d="M21.3 550.1H24.6L21.7 558.5H17.8Z"/></g>
<text x="28.6" y="559" font-size="11.2" fill="#d9d9d9" stroke="#d9d9d9" stroke-width="0.32" text-anchor="start" textLength="60.4" lengthAdjust="spacingAndGlyphs" font-family="Liberation Sans, sans-serif" >TradingView</text>
</svg></body></html>
